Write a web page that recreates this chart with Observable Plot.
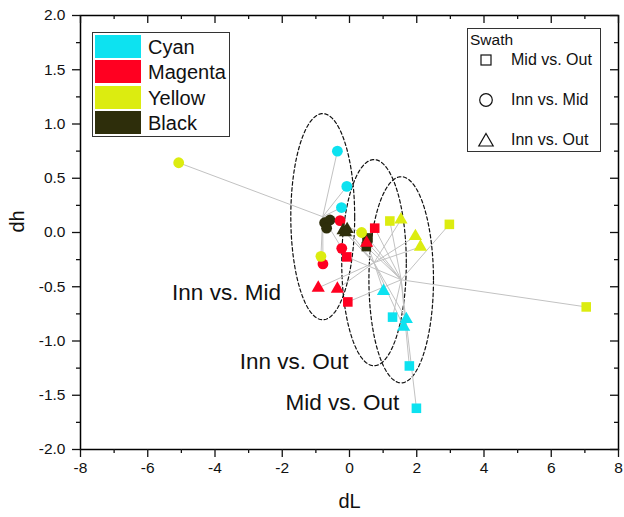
<!DOCTYPE html>
<html><head><meta charset="utf-8">
<script src="https://cdn.jsdelivr.net/npm/d3@7"></script>
<script src="https://cdn.jsdelivr.net/npm/@observablehq/plot@0.6"></script>
<style>
body{margin:0;background:#fff;font-family:"Liberation Sans",Arial,sans-serif;}
#wrap{position:relative;width:624px;height:517px;}
#wrap svg{display:block;}
.box{position:absolute;border:1.5px solid #333;box-sizing:border-box;background:#fff;}
.abs{position:absolute;white-space:nowrap;line-height:1;}
</style></head><body><div id="wrap"></div>
<script>
// ---- categories ----
const colorNames = ["Cyan", "Magenta", "Yellow", "Black"];
const colorHex = ["#0de2f0", "#ff0021", "#dcec10", "#2e2e0b"];
const swathNames = ["Mid vs. Out", "Inn vs. Mid", "Inn vs. Out"];
const swathSymbols = ["square", "circle", "triangle"];
// colour of each point within a swath (3 per colour)
const pointColors = ["Cyan","Cyan","Cyan","Magenta","Magenta","Magenta","Yellow","Yellow","Yellow","Black","Black","Black"];

// ---- values (dL, dh) ----
const midOutL = [1.28, 1.78, 1.99, 0.75, -0.08, -0.05, 7.04, 2.97, 1.20, 0.55, 0.52, 0.50];
const midOutH = [-0.78, -1.23, -1.62, 0.04, -0.225, -0.64, -0.686, 0.075, 0.106, -0.05, -0.09, -0.13];
const innMidL = [-0.36, -0.08, -0.24, -0.28, -0.23, -0.79, -5.08, 0.36, -0.85, -0.74, -0.58, -0.68];
const innMidH = [0.75, 0.425, 0.23, 0.11, -0.146, -0.29, 0.643, 0.0, -0.22, 0.09, 0.115, 0.04];
const innOutL = [1.01, 1.69, 1.61, -0.93, -0.36, 0.51, 1.53, 1.96, 2.11, -0.19, -0.07, -0.12];
const innOutH = [-0.54, -0.80, -0.87, -0.51, -0.52, -0.097, 0.118, -0.035, -0.133, 0.02, 0.03, 0.0];

// ellipse radii per swath (dL, dh units)
const ellipseRx = [0.96, 0.95, 0.96];
const ellipseRy = [0.95, 0.95, 0.95];

// annotation labels
const annoText = ["Inn vs. Mid", "Inn vs. Out", "Mid vs. Out"];
const annoX = [-2.04, -0.03, 1.48];
const annoY = [-0.56, -1.19, -1.57];

// ticks
const xMajor = [-8, -6, -4, -2, 0, 2, 4, 6, 8];
const xMinor = [-7, -5, -3, -1, 1, 3, 5, 7];
const yMajor = [-2, -1.5, -1, -0.5, 0, 0.5, 1, 1.5, 2];
const yMinor = [-1.75, -1.25, -0.75, -0.25, 0.25, 0.75, 1.25, 1.75];

// ---- build table ----
const seriesL = [midOutL, innMidL, innOutL];
const seriesH = [midOutH, innMidH, innOutH];
const drawOrder = ["Black", "Cyan", "Magenta", "Yellow"];
const hexOf = c => colorHex[colorNames.indexOf(c)];
const rows = [];
const hubs = swathNames.map((s, k) => ({swath: s, x: d3.mean(seriesL[k]), y: d3.mean(seriesH[k])}));
swathNames.forEach((s, k) => {
  seriesL[k].forEach((v, i) => {
    rows.push({swath: s, symbol: swathSymbols[k], color: pointColors[i], hex: hexOf(pointColors[i]), dL: v, dh: seriesH[k][i], hx: hubs[k].x, hy: hubs[k].y});
  });
});
rows.sort((a, b) => drawOrder.indexOf(a.color) - drawOrder.indexOf(b.color));
const ellipsePts = [];
hubs.forEach((h, k) => {
  for (let j = 0; j <= 180; j++) {
    const t = j / 180 * 2 * Math.PI;
    ellipsePts.push({swath: h.swath, x: h.x + ellipseRx[k] * Math.cos(t), y: h.y + ellipseRy[k] * Math.sin(t)});
  }
});

const W = 624, H = 517, mL = 80, mR = 6, mT = 15, mB = 68;
const pw = W - mL - mR, ph = H - mT - mB;
const font = "'Liberation Sans', Arial, sans-serif";

const chart = Plot.plot({
  width: W, height: H, marginLeft: mL, marginRight: mR, marginTop: mT, marginBottom: mB,
  x: {domain: [-8, 8]},
  y: {domain: [-2, 2]},
  style: {fontFamily: font, fontSize: "15px", background: "white", overflow: "visible", color: "#111"},
  marks: [
    Plot.line(ellipsePts, {x: "x", y: "y", z: "swath", stroke: "#111", strokeWidth: 1.2, strokeDasharray: "3.5,2.5"}),
    Plot.link(rows, {x1: "hx", y1: "hy", x2: "dL", y2: "dh", stroke: "#c2c2c2", strokeWidth: 1}),
    Plot.dot(rows.filter(d => d.symbol === "square"), {x: "dL", y: "dh", fill: "hex", symbol: "square", r: 5.4}),
    Plot.dot(rows.filter(d => d.symbol === "circle"), {x: "dL", y: "dh", fill: "hex", symbol: "circle", r: 5.4}),
    Plot.dot(rows.filter(d => d.symbol === "triangle"), {x: "dL", y: "dh", fill: "hex", symbol: "triangle", r: 4.9}),
    Plot.text(annoText, {x: (d, i) => annoX[i], y: (d, i) => annoY[i], text: d => d, textAnchor: "end", fontSize: 22.5, fill: "#111"}),
    Plot.frame({stroke: "#000", strokeWidth: 1.5}),
    Plot.axisX(xMajor, {tickSize: 8, tickFormat: () => "", strokeWidth: 1.3, label: null}),
    Plot.axisX(xMinor, {tickSize: 4, tickFormat: () => "", strokeWidth: 1.3, label: null}),
    Plot.axisY(yMajor, {tickSize: 8, tickFormat: () => "", strokeWidth: 1.3, label: null}),
    Plot.axisY(yMinor, {tickSize: 4, tickFormat: () => "", strokeWidth: 1.3, label: null}),
    Plot.ruleX(xMajor, {insetBottom: ph - 8, strokeWidth: 1.3}),
    Plot.ruleX(xMinor, {insetBottom: ph - 4, strokeWidth: 1.3}),
    Plot.ruleY(yMajor, {insetLeft: pw - 8, strokeWidth: 1.3}),
    Plot.ruleY(yMinor, {insetLeft: pw - 4, strokeWidth: 1.3}),
    // tick labels
    Plot.text(xMajor, {x: d => d, frameAnchor: "bottom", dy: 23, text: d => String(d), fontSize: 15.5, fill: "#111"}),
    Plot.text(yMajor, {y: d => d, frameAnchor: "left", dx: -15, textAnchor: "end", text: d => d.toFixed(1), fontSize: 15.5, fill: "#111"}),
    Plot.text(["dL"], {frameAnchor: "bottom", dy: 58, text: d => d, fontSize: 20}),
    Plot.text(["dh"], {frameAnchor: "left", dx: -63, rotate: -90, text: d => d, fontSize: 20})
  ]
});
const wrap = document.getElementById("wrap");
wrap.appendChild(chart);

// ---- colour legend ----
const cbox = document.createElement("div");
cbox.className = "box";
Object.assign(cbox.style, {left: "92px", top: "32px", width: "138px", height: "105px"});
wrap.appendChild(cbox);
const rowTops = [35, 60, 86, 111];
colorNames.forEach((c, i) => {
  const sw = document.createElement("div");
  sw.className = "abs";
  Object.assign(sw.style, {left: "95px", top: rowTops[i] + "px", width: "46px", height: "23px", background: colorHex[i]});
  wrap.appendChild(sw);
  const t = document.createElement("div");
  t.className = "abs";
  t.textContent = c;
  Object.assign(t.style, {left: "148px", top: (rowTops[i] + 11.5 - 10) + "px", fontSize: "20px", height: "20px", lineHeight: "20px", color: "#111"});
  wrap.appendChild(t);
});

// ---- swath legend ----
const sbox = document.createElement("div");
sbox.className = "box";
Object.assign(sbox.style, {left: "467px", top: "28px", width: "134px", height: "124px"});
wrap.appendChild(sbox);
const st = document.createElement("div");
st.className = "abs";
st.textContent = "Swath";
Object.assign(st.style, {left: "470px", top: "32px", fontSize: "15.5px", lineHeight: "16px", color: "#111"});
wrap.appendChild(st);
const symRows = [60, 100, 140];
const symSvg = {
  square: '<rect x="5" y="5" width="10" height="10" fill="none" stroke="#111" stroke-width="1.2"/>',
  circle: '<circle cx="10" cy="10" r="6.3" fill="none" stroke="#111" stroke-width="1.2"/>',
  triangle: '<path d="M10,3.5 L17.2,16 L2.8,16 Z" fill="none" stroke="#111" stroke-width="1.2"/>'
};
swathNames.forEach((s, i) => {
  const g = document.createElement("div");
  g.className = "abs";
  Object.assign(g.style, {left: "476px", top: (symRows[i] - 10) + "px", width: "20px", height: "20px"});
  g.innerHTML = '<svg width="20" height="20">' + symSvg[swathSymbols[i]] + '</svg>';
  wrap.appendChild(g);
  const t = document.createElement("div");
  t.className = "abs";
  t.textContent = s;
  Object.assign(t.style, {left: "511px", top: (symRows[i] - 8) + "px", fontSize: "16px", lineHeight: "16px", color: "#111"});
  wrap.appendChild(t);
});
</script>
</body></html>
